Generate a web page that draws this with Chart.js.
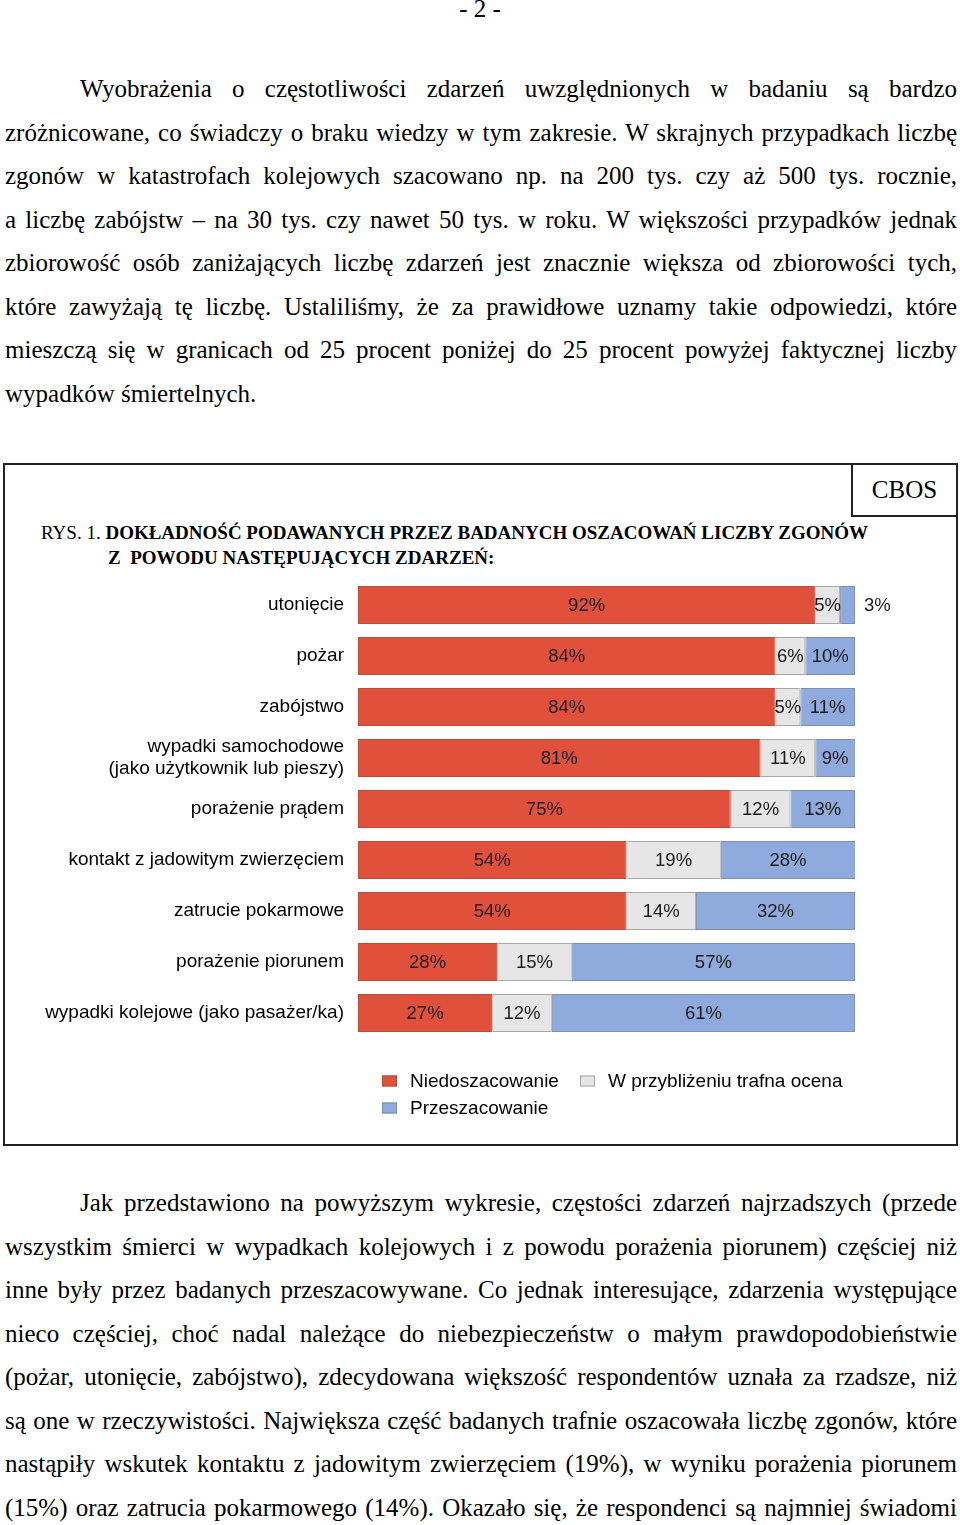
<!DOCTYPE html>
<html><head><meta charset="utf-8">
<script src="https://cdn.jsdelivr.net/npm/chart.js@4"></script>
<style>
html,body{margin:0;padding:0;background:#fff;}
body{width:960px;height:1525px;position:relative;overflow:hidden;font-family:"Liberation Serif","Times New Roman",serif;color:#000;}
.ln{position:absolute;left:5px;right:3px;font-size:25px;line-height:25px;text-align:justify;text-align-last:justify;white-space:nowrap;}
.ln.ind{left:80px}
.ln.last{text-align-last:left;text-align:left}
#hdr{position:absolute;left:0;right:0;top:-4px;text-align:center;font-size:25px;line-height:25px;}
#box{position:absolute;left:3px;top:463px;width:955px;height:683px;border:2px solid #222;box-sizing:border-box;}
#cbos{position:absolute;left:851px;top:463px;width:107px;height:54px;border:2px solid #222;box-sizing:border-box;text-align:center;font-size:25px;line-height:25px;}
#cbos span{position:absolute;left:0;right:0;top:12px;}
.tt{position:absolute;font-size:19px;line-height:19px;white-space:nowrap;}
.tt b{font-weight:bold}
#chartwrap{position:absolute;left:0;top:570px;width:960px;height:560px;}
</style></head>
<body>
<div id="hdr">- 2 -</div>
<div class="ln ind" style="top:76px">Wyobrażenia o częstotliwości zdarzeń uwzględnionych w badaniu są bardzo</div>
<div class="ln" style="top:119.5px">zróżnicowane, co  świadczy o braku wiedzy w tym zakresie.  W skrajnych przypadkach liczbę</div>
<div class="ln" style="top:163px">zgonów  w katastrofach kolejowych szacowano np. na 200 tys. czy aż 500 tys. rocznie,</div>
<div class="ln" style="top:206.5px">a liczbę zabójstw – na 30 tys. czy nawet 50 tys. w roku. W większości przypadków jednak</div>
<div class="ln" style="top:250px">zbiorowość osób zaniżających liczbę zdarzeń jest znacznie większa od zbiorowości tych,</div>
<div class="ln" style="top:293.5px">które zawyżają tę liczbę. Ustaliliśmy, że za prawidłowe uznamy takie odpowiedzi, które</div>
<div class="ln" style="top:337px">mieszczą się w granicach  od 25 procent poniżej do 25 procent powyżej faktycznej liczby</div>
<div class="ln last" style="top:380.5px">wypadków śmiertelnych.</div>

<div id="box"></div>
<div id="cbos"><span>CBOS</span></div>
<div class="tt" style="left:41px;top:523px">RYS. 1. <b>DOKŁADNOŚĆ PODAWANYCH PRZEZ BADANYCH OSZACOWAŃ LICZBY ZGONÓW</b></div>
<div class="tt" style="left:108px;top:548px"><b>Z&nbsp; POWODU NASTĘPUJĄCYCH ZDARZEŃ:</b></div>
<div id="chartwrap"><canvas id="c"></canvas></div>

<div class="ln ind" style="top:1190px">Jak przedstawiono na powyższym wykresie, częstości zdarzeń najrzadszych (przede</div>
<div class="ln" style="top:1233.5px">wszystkim śmierci w wypadkach kolejowych i z powodu porażenia piorunem) częściej niż</div>
<div class="ln" style="top:1277px">inne były przez badanych przeszacowywane. Co jednak interesujące, zdarzenia występujące</div>
<div class="ln" style="top:1320.5px">nieco częściej, choć nadal należące do niebezpieczeństw o małym prawdopodobieństwie</div>
<div class="ln" style="top:1364px">(pożar, utonięcie, zabójstwo), zdecydowana większość respondentów uznała za rzadsze, niż</div>
<div class="ln" style="top:1407.5px">są one w rzeczywistości. Największa część badanych trafnie oszacowała liczbę zgonów, które</div>
<div class="ln" style="top:1451px">nastąpiły wskutek kontaktu z jadowitym zwierzęciem (19%), w wyniku porażenia piorunem</div>
<div class="ln" style="top:1494.5px">(15%) oraz zatrucia pokarmowego (14%). Okazało się, że respondenci są najmniej świadomi</div>

<script>
const categories = [
  'utonięcie',
  'pożar',
  'zabójstwo',
  ['wypadki samochodowe', '(jako użytkownik lub pieszy)'],
  'porażenie prądem',
  'kontakt z jadowitym zwierzęciem',
  'zatrucie pokarmowe',
  'porażenie piorunem',
  'wypadki kolejowe (jako pasażer/ka)'
];
const seriesNames = ['Niedoszacowanie', 'W przybliżeniu trafna ocena', 'Przeszacowanie'];
const underestimated = [92, 84, 84, 81, 75, 54, 54, 28, 27];
const accurate = [5, 6, 5, 11, 12, 19, 14, 15, 12];
const overestimated = [3, 10, 11, 9, 13, 28, 32, 57, 61];

const colors = ['#E1503A', '#E6E6E6', '#8FAADC'];
const borders = ['#B5503F', '#A8A8A8', '#7D8FAF'];

const valueLabels = {
  id: 'valueLabels',
  afterDatasetsDraw(chart) {
    const ctx = chart.ctx;
    const area = chart.chartArea;
    ctx.save();
    ctx.font = '18.5px "Liberation Sans", Arial, sans-serif';
    ctx.fillStyle = '#1a1a1a';
    ctx.textBaseline = 'middle';
    const last = chart.data.datasets.length - 1;
    chart.data.datasets.forEach((ds, di) => {
      const meta = chart.getDatasetMeta(di);
      meta.data.forEach((el, i) => {
        const v = ds.data[i];
        const left = Math.max(Math.min(el.base, el.x), area.left);
        const right = Math.min(Math.max(el.base, el.x), area.right);
        if (di === last && v < 4) {
          ctx.textAlign = 'left';
          ctx.fillText(v + '%', right + 9, el.y + 1);
        } else {
          ctx.textAlign = 'center';
          ctx.fillText(v + '%', (left + right) / 2, el.y + 1);
        }
      });
    });
    ctx.restore();
  }
};

const legendPlugin = {
  id: 'customLegend',
  afterDraw(chart) {
    const ctx = chart.ctx;
    const area = chart.chartArea;
    const pos = [
      [area.left + 24, area.bottom + 42.5],
      [area.left + 222, area.bottom + 42.5],
      [area.left + 24, area.bottom + 69.5]
    ];
    ctx.save();
    ctx.font = '19px "Liberation Sans", Arial, sans-serif';
    ctx.textBaseline = 'middle';
    ctx.textAlign = 'left';
    chart.data.datasets.forEach((ds, i) => {
      const [x, y] = pos[i];
      ctx.fillStyle = ds.backgroundColor;
      ctx.fillRect(x, y - 5.5, 15, 11);
      ctx.strokeStyle = ds.borderColor;
      ctx.lineWidth = 1;
      ctx.strokeRect(x + 0.5, y - 5, 14, 10);
      ctx.fillStyle = '#000';
      ctx.fillText(ds.label, x + 28, y + 1);
    });
    ctx.restore();
  }
};

new Chart(document.getElementById('c'), {
  type: 'bar',
  data: {
    labels: categories,
    datasets: [underestimated, accurate, overestimated].map((d, i) => ({
      label: seriesNames[i],
      data: d,
      backgroundColor: colors[i],
      borderColor: borders[i],
      borderWidth: 1,
      borderSkipped: false,
      categoryPercentage: 1,
      barPercentage: 0.745,
      clip: 0
    }))
  },
  options: {
    indexAxis: 'y',
    responsive: true,
    maintainAspectRatio: false,
    animation: false,
    layout: { padding: { left: 0, right: 105, top: 9.5, bottom: 91.5 } },
    plugins: { legend: { display: false }, tooltip: { enabled: false } },
    scales: {
      x: { stacked: true, min: 0, max: 100, display: false },
      y: {
        stacked: true,
        grid: { display: false, drawTicks: false },
        border: { display: false },
        ticks: {
          autoSkip: false,
          padding: 14,
          color: '#000',
          font: { family: '"Liberation Sans", Arial, sans-serif', size: 19, lineHeight: 1.15 }
        },
        afterFit(scale) {
          scale.width = 358;
          scale.paddingTop = 0;
          scale.paddingBottom = 0;
        }
      }
    }
  },
  plugins: [valueLabels, legendPlugin]
});
</script>
</body></html>
